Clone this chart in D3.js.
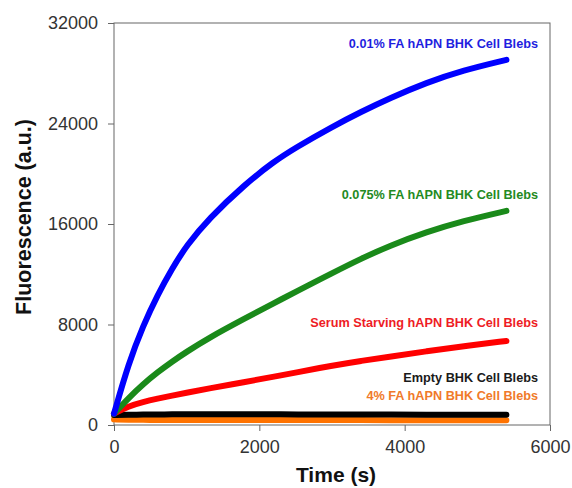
<!DOCTYPE html>
<html>
<head>
<meta charset="utf-8">
<script src="https://cdn.jsdelivr.net/npm/d3@7"></script>
<style>
  body { margin: 0; background: #fff; }
  svg { font-family: "Liberation Sans", Arial, sans-serif; }
  .tick text { fill: #333; font-size: 18px; }
  .tick line { stroke: #666; }
</style>
</head>
<body>
<div id="chart"></div>
<script>
// data
const times = [0, 200, 400, 600, 800, 1000, 1300, 1800, 2200, 2500, 3000, 3400, 3800, 4300, 4800, 5400]
const blue = [900, 4900, 7900, 10360, 12460, 14300, 16400, 19150, 20970, 22080, 23730, 24930, 26030, 27255, 28230, 29070]
const green = [900, 2150, 3250, 4200, 5050, 5830, 6920, 8480, 9700, 10600, 12085, 13245, 14285, 15360, 16235, 17045]
const red = [900, 1500, 1840, 2100, 2340, 2570, 2900, 3425, 3845, 4175, 4725, 5105, 5445, 5870, 6270, 6690]
const black = [800, 820, 830, 840, 850, 850, 850, 850, 850, 840, 840, 830, 830, 820, 820, 810]
const orange = [450, 420, 410, 400, 400, 400, 400, 400, 390, 390, 390, 390, 380, 380, 380, 380]
const names = ['4% FA hAPN BHK Cell Blebs', 'Empty BHK Cell Blebs', 'Serum Starving hAPN BHK Cell Blebs',
    '0.075% FA hAPN BHK Cell Blebs', '0.01% FA hAPN BHK Cell Blebs']
const xTicks = [0, 2000, 4000, 6000]
const yTicks = [0, 8000, 16000, 24000, 32000]

const createChart = () => {
//variables
    const width = 572
    const height = 488
    const margin = {top: 23, right: 22, bottom: 63, left: 114}
    const series = [orange, black, red, green, blue]
    const lineColors = ['#ff7300', '#000000', '#ff0000', '#1a8a1a', '#0000ff']
    const textColors = ['#f07a2a', '#1a1a1a', '#ee1c25', '#238a23', '#1f1fe0']
    // label baselines: fixed for the two flat lines, otherwise px above the line end
    const labelY = [400, 382, null, null, null]
    const labelOff = [0, 0, -14, -12, -12]

    const x = d3.scaleLinear()
        .domain([0, 6000])
        .range([margin.left, width - margin.right])
    const y = d3.scaleLinear()
        .domain([0, 32000])
        .range([height - margin.bottom, margin.top])

    const svg = d3.select('#chart')
        .append('svg')
        .attr('width', width)
        .attr('height', height)

//frame
    svg.append('rect')
        .attr('x', margin.left)
        .attr('y', margin.top)
        .attr('width', width - margin.left - margin.right)
        .attr('height', height - margin.top - margin.bottom)
        .attr('fill', 'none')
        .attr('stroke', '#666')

//axes
    svg.append('g')
        .attr('transform', `translate(0,${height - margin.bottom})`)
        .call(d3.axisBottom(x).tickValues(xTicks).tickSize(6).tickPadding(9).tickSizeOuter(0)
            .tickFormat(d3.format('d')))
        .call((g) => g.select('.domain').remove())
    svg.append('g')
        .attr('transform', `translate(${margin.left},0)`)
        .call(d3.axisLeft(y).tickValues(yTicks).tickSize(6).tickPadding(10).tickSizeOuter(0)
            .tickFormat(d3.format('d')))
        .call((g) => g.select('.domain').remove())

//lines
    const line = d3.line()
        .x((d, i) => x(times[i]))
        .y((d) => y(d))
        .curve(d3.curveBasis)

    svg.append('g')
        .selectAll('path')
        .data(series)
        .enter()
        .append('path')
        .attr('d', line)
        .attr('fill', 'none')
        .attr('stroke', (d, i) => lineColors[i])
        .attr('stroke-width', 6)
        .attr('stroke-linecap', 'round')
        .attr('stroke-linejoin', 'round')

//labels
    svg.append('g')
        .selectAll('text')
        .data(series)
        .enter()
        .append('text')
        .attr('x', width - margin.right - 12)
        .attr('y', (d, i) => labelY[i] !== null ? labelY[i] : y(d[d.length - 1]) + labelOff[i])
        .attr('text-anchor', 'end')
        .attr('font-size', 12.7)
        .attr('font-weight', 'bold')
        .attr('fill', (d, i) => textColors[i])
        .text((d, i) => names[i])

//titles
    svg.append('text')
        .attr('x', (margin.left + width - margin.right) / 2 + 4)
        .attr('y', 482)
        .attr('text-anchor', 'middle')
        .attr('font-size', 21)
        .attr('font-weight', 'bold')
        .attr('fill', '#111')
        .text('Time (s)')
    svg.append('text')
        .attr('transform', `translate(31,${217}) rotate(-90)`)
        .attr('text-anchor', 'middle')
        .attr('font-size', 21.5)
        .attr('font-weight', 'bold')
        .attr('fill', '#111')
        .text('Fluorescence (a.u.)')
}

createChart()
</script>
</body>
</html>
